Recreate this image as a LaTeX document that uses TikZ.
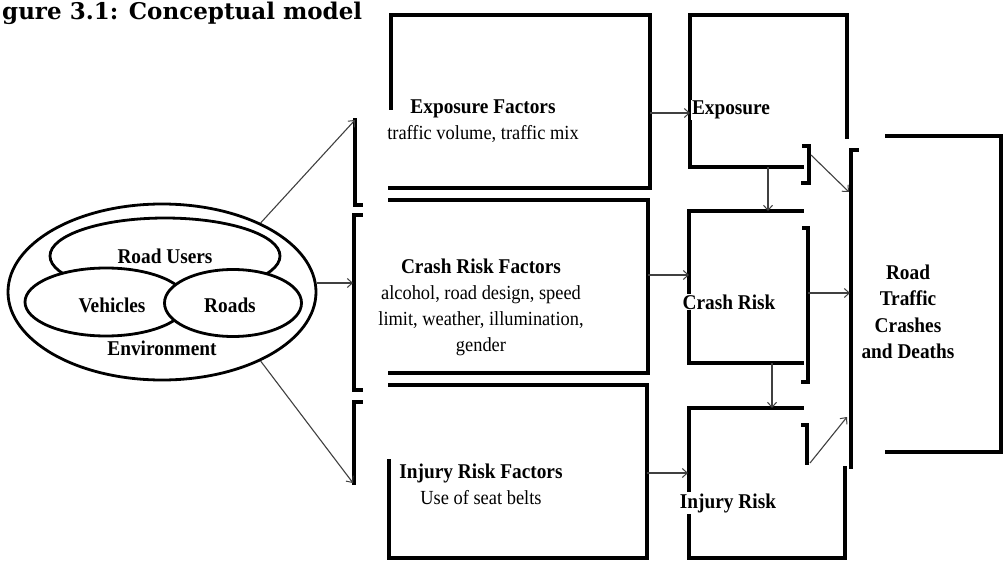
\documentclass[tikz,border=0pt]{standalone}
\usepackage{fontspec}
\setmainfont{Liberation Serif}
\newfontfamily\titlefont{DejaVu Serif}
\newfontfamily\cond[FakeStretch=0.92]{Liberation Serif}
\usetikzlibrary{arrows.meta,shapes.geometric}
\newcommand{\bttl}[1]{{\fontsize{21}{26}\selectfont\bfseries #1}}
\begin{document}
\begin{tikzpicture}[x=1pt,y=-1pt,
  boxline/.style={line width=3.5pt, line cap=rect},
  ell/.style={draw, ellipse, line width=2.8pt, fill=white, inner sep=0pt},
  conn/.style={line width=1.1pt, draw=black!75, -{Straight Barb[length=5pt,width=9pt,line width=1pt]}},
  lbl/.style={font=\fontsize{20}{26}\selectfont\cond, align=center, inner sep=0pt},
  blbl/.style={font=\fontsize{21}{26.5}\selectfont\cond\bfseries, align=center, inner sep=0pt},
]
\useasboundingbox (0,0) rectangle (1003,561);
\fill[white] (0,0) rectangle (1003,561);

% title
\node[anchor=base west, inner sep=0pt, font=\titlefont\bfseries\fontsize{23}{28}\selectfont] (title) at (2,20) {gure 3.1: Conceptual model};

% left ellipses
\node[ell, minimum width=308pt, minimum height=176pt] (env) at (162,292) {};
\node[ell, minimum width=230pt, minimum height=76pt] (users) at (165,256) {};
\node[ell, minimum width=162pt, minimum height=68pt] (veh) at (106,302) {};
\node[ell, minimum width=137pt, minimum height=67pt] (roads) at (233,303) {};
\node[blbl] (tusers) at (165,256) {Road Users};
\node[blbl] (tveh) at (112,305) {Vehicles};
\node[blbl] (troads) at (230,305) {Roads};
\node[blbl] (tenv) at (162,348) {Environment};

% left brackets
\draw[boxline] (355,120) -- (355,205) -- (361,205);
\draw[boxline] (361,215) -- (354,215) -- (354,390) -- (361,390);
\draw[boxline] (361,402) -- (354,402) -- (354,483);
\coordinate (b1) at (355,120);
\coordinate (b2) at (353,283);
\coordinate (b3) at (353,483);

% factor boxes
\draw[boxline] (391,108) -- (391,15) -- (650,15) -- (650,188) -- (390,188);
\draw[boxline] (390,200) -- (648,200) -- (648,373) -- (390,373);
\draw[boxline] (390,385) -- (647,385) -- (647,558) -- (389,558) -- (389,461);

% risk boxes
\draw[boxline] (802,167) -- (690,167) -- (690,15) -- (847,15) -- (847,137);
\draw[boxline] (804,146) -- (809,146) -- (809,183) -- (803,183);
\draw[boxline] (802,211) -- (689,211) -- (689,363) -- (802,363);
\draw[boxline] (804,228) -- (808,228) -- (808,382) -- (803,382);
\draw[boxline] (802,408) -- (689,408) -- (689,558) -- (845,558) -- (845,468);
\draw[boxline] (803,425) -- (807,425) -- (807,463);

% outcome box
\draw[boxline] (857,150) -- (851,150) -- (851,467);
\draw[boxline] (887,136) -- (1001,136) -- (1001,452) -- (887,452);

% named connector ends
\coordinate (efR) at (650,113);
\coordinate (eL) at (690,113);
\coordinate (cfR) at (648,275);
\coordinate (cL) at (689,275);
\coordinate (ifR) at (647,473);
\coordinate (iL) at (688,473);
\coordinate (eB) at (768,167);
\coordinate (cT) at (768,211);
\coordinate (cB) at (772,363);
\coordinate (iT) at (772,408);
\coordinate (ebr) at (811,155);
\coordinate (oA) at (849,192);
\coordinate (cbr) at (808,293);
\coordinate (oB) at (850,293);
\coordinate (ibr) at (810,463);
\coordinate (oC) at (847,417);

% connectors
\draw[conn] (env.35) -- (b1);
\draw[conn] (env.east |- b2) -- (b2);
\draw[conn] (env.-35) -- (b3);
\draw[conn] (efR) -- (eL);
\draw[conn] (cfR) -- (cL);
\draw[conn] (ifR) -- (iL);
\draw[conn] (eB) -- (cT);
\draw[conn] (cB) -- (iT);
\draw[conn] (ebr) -- (oA);
\draw[conn] (cbr) -- (oB);
\draw[conn] (ibr) -- (oC);

% texts
\node[lbl] (tef) at (483,121) {\bttl{Exposure Factors}\\traffic volume, traffic mix};
\node[lbl] (tcf) at (481,307) {\bttl{Crash Risk Factors}\\alcohol, road design, speed\\limit, weather, illumination,\\gender};
\node[lbl] (tif) at (481,484) {\bttl{Injury Risk Factors}\\Use of seat belts};
\node[blbl, fill=white, inner sep=1pt] (te) at (731,110) {Exposure};
\node[blbl, fill=white, inner sep=1pt] (tc) at (729,302) {Crash Risk};
\node[blbl, fill=white, inner sep=1pt] (ti) at (728,503) {Injury Risk};
\node[blbl] (to) at (908,312) {Road\\Traffic\\Crashes\\and Deaths};
\end{tikzpicture}
\end{document}
